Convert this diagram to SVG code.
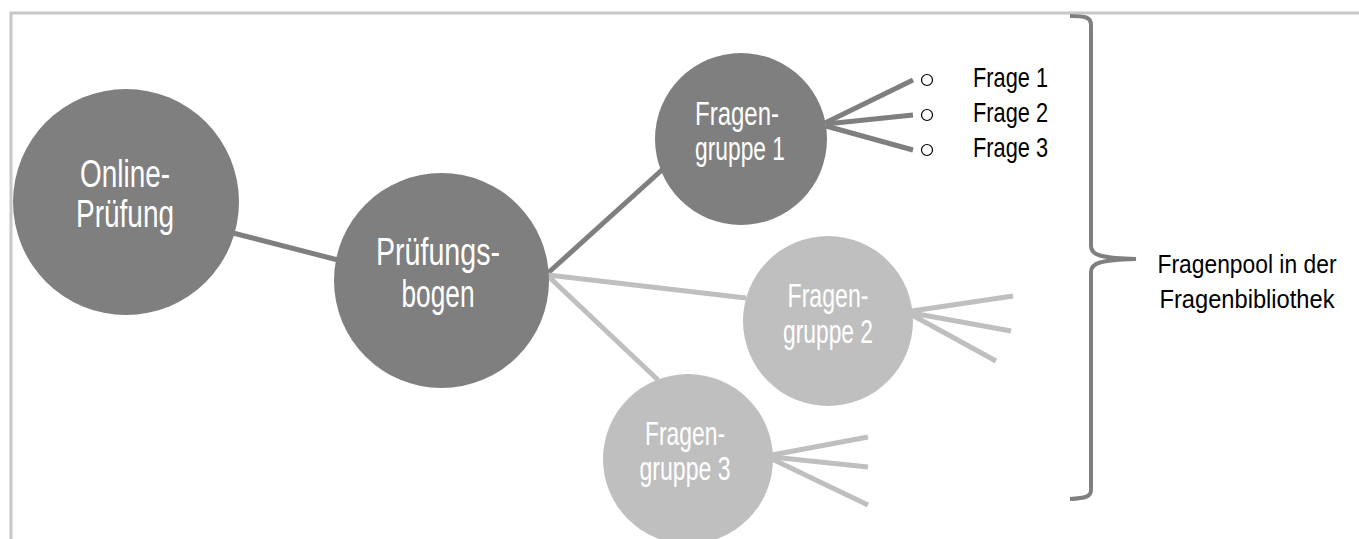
<svg xmlns="http://www.w3.org/2000/svg" width="1359" height="539" viewBox="0 0 1359 539">
<style>
.t{font-family:"Liberation Sans",Arial,sans-serif;}
.w{fill:#ffffff;text-anchor:middle;}
.k{fill:#000000;}
.dark{fill:#7f7f7f;}
.light{fill:#bfbfbf;}
.cd{stroke:#7f7f7f;stroke-width:5;fill:none;}
.cl{stroke:#bfbfbf;stroke-width:5;fill:none;}
.bul{fill:none;stroke:#000;stroke-width:1.2;}
</style>
<rect x="11" y="13" width="1360" height="540" fill="#ffffff" stroke="#c8c8c8" stroke-width="3"/>
<g id="connectors">
<line class="cd" x1="233" y1="233" x2="338" y2="260"/>
<line class="cd" x1="548" y1="273" x2="663" y2="169"/>
<line class="cl" x1="548" y1="275" x2="746" y2="298"/>
<line class="cl" x1="548" y1="276" x2="658" y2="380"/>
<line class="cd" x1="825" y1="123" x2="913" y2="80"/>
<line class="cd" x1="826" y1="124" x2="913" y2="115"/>
<line class="cd" x1="826" y1="126" x2="913" y2="150"/>
<line class="cl" x1="912" y1="311" x2="1013" y2="296"/>
<line class="cl" x1="912" y1="313" x2="1011" y2="331"/>
<line class="cl" x1="912" y1="315" x2="996" y2="361"/>
<line class="cl" x1="772" y1="455" x2="868" y2="437"/>
<line class="cl" x1="772" y1="457" x2="868" y2="467"/>
<line class="cl" x1="772" y1="459" x2="868" y2="505"/>
</g>
<g id="online">
<circle class="dark" cx="126" cy="202" r="113"/>
<text class="t w" x="125" y="187" font-size="38" textLength="90" lengthAdjust="spacingAndGlyphs">Online-</text>
<text class="t w" x="125" y="227" font-size="38" textLength="98" lengthAdjust="spacingAndGlyphs">Prüfung</text>
</g>
<g id="pruefungsbogen">
<circle class="dark" cx="441.5" cy="280.5" r="107.5"/>
<text class="t w" x="438" y="265" font-size="38" textLength="124" lengthAdjust="spacingAndGlyphs">Prüfungs-</text>
<text class="t w" x="438" y="307" font-size="38" textLength="73" lengthAdjust="spacingAndGlyphs">bogen</text>
</g>
<g id="fg1">
<circle class="dark" cx="741" cy="139" r="86"/>
<text class="t w" x="737" y="125" font-size="33" textLength="84" lengthAdjust="spacingAndGlyphs">Fragen-</text>
<text class="t w" x="740" y="160" font-size="33" textLength="90" lengthAdjust="spacingAndGlyphs">gruppe 1</text>
</g>
<g id="fg2">
<circle class="light" cx="828" cy="321" r="85"/>
<text class="t w" x="828" y="307" font-size="33" textLength="81" lengthAdjust="spacingAndGlyphs">Fragen-</text>
<text class="t w" x="828" y="343" font-size="33" textLength="90" lengthAdjust="spacingAndGlyphs">gruppe 2</text>
</g>
<g id="fg3">
<circle class="light" cx="688" cy="459" r="85"/>
<text class="t w" x="685" y="445" font-size="33" textLength="80" lengthAdjust="spacingAndGlyphs">Fragen-</text>
<text class="t w" x="685" y="480" font-size="33" textLength="91" lengthAdjust="spacingAndGlyphs">gruppe 3</text>
</g>
<g id="fragen">
<circle class="bul" cx="927" cy="80" r="5.5"/>
<circle class="bul" cx="927" cy="115" r="5.5"/>
<circle class="bul" cx="927" cy="150" r="5.5"/>
<text class="t k" x="973" y="87" font-size="28" textLength="75" lengthAdjust="spacingAndGlyphs">Frage 1</text>
<text class="t k" x="973" y="122" font-size="28" textLength="75" lengthAdjust="spacingAndGlyphs">Frage 2</text>
<text class="t k" x="973" y="157" font-size="28" textLength="75" lengthAdjust="spacingAndGlyphs">Frage 3</text>
</g>
<g id="pool">
<path d="M1070,16 C1085,16 1091,17 1091,25 L1091,246 C1091,255 1100,258 1136,259 C1100,260 1091,263 1091,272 L1091,490 C1091,497 1085,498 1070,499" fill="none" stroke="#7f7f7f" stroke-width="4"/>
<text class="t k" x="1247" y="273" font-size="26" text-anchor="middle" textLength="179" lengthAdjust="spacingAndGlyphs">Fragenpool in der</text>
<text class="t k" x="1247" y="308" font-size="26" text-anchor="middle" textLength="175" lengthAdjust="spacingAndGlyphs">Fragenbibliothek</text>
</g>
</svg>
